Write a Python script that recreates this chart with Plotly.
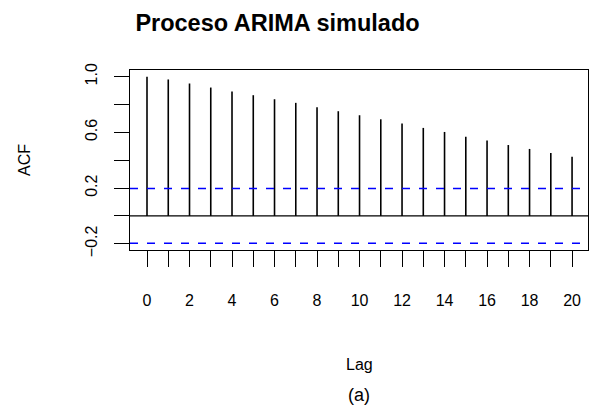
import plotly.graph_objects as go

# Data
lags = list(range(0, 21))
acf_values = [1.000, 0.980, 0.951, 0.922, 0.894, 0.867, 0.838, 0.812, 0.781, 0.752,
              0.723, 0.694, 0.663, 0.632, 0.603, 0.569, 0.541, 0.509, 0.481, 0.452, 0.425]
conf_bound = 0.196
x_tick_vals = list(range(0, 21, 2))
y_tick_vals = [-0.2, 0.2, 0.6, 1.0]
y_minor_vals = [0.0, 0.4, 0.8]

title_text = "<b>Proceso ARIMA simulado</b>"
x_label = "Lag"
y_label = "ACF"
caption = "(a)"

FONT = "Arial, Liberation Sans, Helvetica, sans-serif"

# build vertical spikes from data
xs, ys = [], []
for lag, v in zip(lags, acf_values):
    xs += [lag, lag, None]
    ys += [0, v, None]

fig = go.Figure()
fig.add_trace(go.Scatter(x=xs, y=ys, mode="lines",
                         line=dict(color="black", width=1.6),
                         hoverinfo="skip", showlegend=False))

# zero line
fig.add_hline(y=0, line=dict(color="black", width=1.3))
# confidence bounds
for yb in (conf_bound, -conf_bound):
    fig.add_hline(y=yb, line=dict(color="#0000ff", width=1.5, dash="8px,9px"))

W, H = 589, 411
L, R, T, B = 130, 1, 70, 161

fig.update_layout(
    width=W, height=H,
    margin=dict(l=L, r=R, t=T, b=B, pad=0),
    paper_bgcolor="white", plot_bgcolor="white",
    font=dict(family=FONT, size=16, color="black"),
    title=dict(text=title_text, x=277.5 / W, xanchor="center",
               y=1 - 23 / H, yanchor="middle", xref="container", yref="container",
               font=dict(family=FONT, size=23.5, color="black")),
    showlegend=False,
)

fig.update_xaxes(
    range=[-0.8, 20.75], showgrid=False, zeroline=False,
    showline=True, mirror=True, linecolor="black", linewidth=1.3,
    tickmode="array", tickvals=x_tick_vals, ticks="outside", ticklen=16,
    tickwidth=1.3, tickcolor="black", ticklabelstandoff=20,
    tickfont=dict(family=FONT, size=16, color="black"),
    minor=dict(tickmode="array", tickvals=lags, ticks="outside", ticklen=16,
               tickwidth=1.3, tickcolor="black", showgrid=False),
)
fig.update_yaxes(
    range=[-0.245, 1.048], showgrid=False, zeroline=False,
    showline=True, mirror=True, linecolor="black", linewidth=1.3,
    tickmode="array", tickvals=y_tick_vals, ticktext=["\u22120.2", "0.2", "0.6", "1.0"],
    ticks="outside", ticklen=15, tickwidth=1.3, tickcolor="black",
    tickangle=-90, ticklabelstandoff=10,
    tickfont=dict(family=FONT, size=16, color="black"),
    minor=dict(tickmode="array", tickvals=y_minor_vals, ticks="outside", ticklen=15,
               tickwidth=1.3, tickcolor="black", showgrid=False),
)

fig.add_annotation(text=x_label, xref="paper", yref="paper", x=0.5, y=0,
                   xanchor="center", yanchor="middle", yshift=-114, showarrow=False,
                   font=dict(family=FONT, size=16, color="black"))
fig.add_annotation(text=caption, xref="paper", yref="paper", x=0.5, y=0,
                   xanchor="center", yanchor="middle", yshift=-145, showarrow=False,
                   font=dict(family=FONT, size=18, color="black"))
fig.add_annotation(text=y_label, xref="paper", yref="paper", x=0, y=0.5,
                   xanchor="center", yanchor="middle", xshift=-106, textangle=-90,
                   showarrow=False, font=dict(family=FONT, size=16, color="black"))

fig.write_html("out.html", config={"displayModeBar": False},
               post_script="document.body.style.margin='0px'; document.body.style.overflow='hidden';")
